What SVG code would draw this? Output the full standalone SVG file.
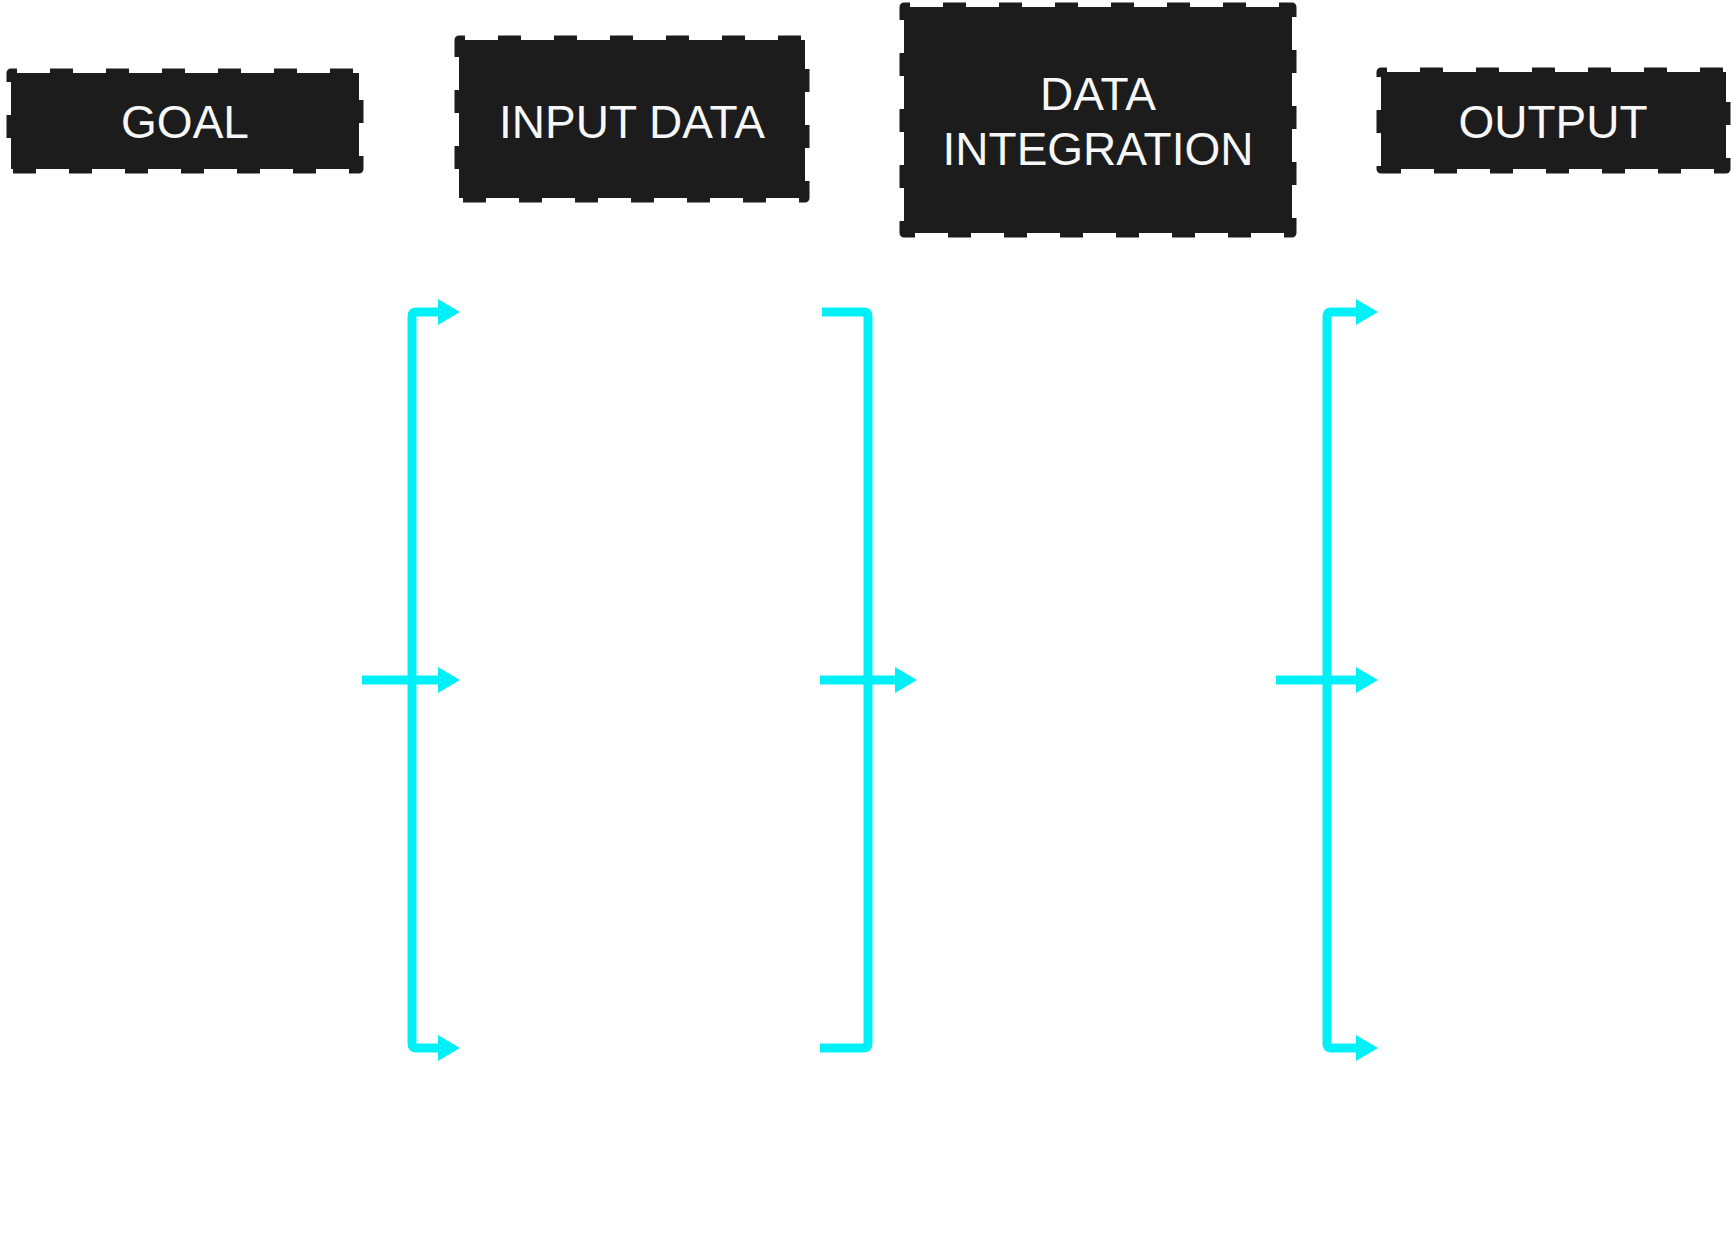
<svg xmlns="http://www.w3.org/2000/svg" width="1732" height="1242" viewBox="0 0 1732 1242">
<style>
.box{fill:#1b1c1b;stroke:#1b1c1b;stroke-width:9;stroke-dasharray:23 33;stroke-dashoffset:17;stroke-linejoin:round}
.lbl{fill:#f7f7f7;font-family:"Liberation Sans",Arial,sans-serif;font-size:46px;text-anchor:middle}
.con{fill:none;stroke:#00f0f8;stroke-width:9;stroke-linejoin:round}
</style>
<defs>
<marker id="ah" viewBox="0 0 22 26" refX="0" refY="13" markerWidth="22" markerHeight="26" markerUnits="userSpaceOnUse" orient="auto">
<path d="M0,0 L22,13 L0,26 z" fill="#00f0f8"/>
</marker>
</defs>
<rect width="1732" height="1242" fill="#ffffff"/>
<g id="goal">
<rect class="box" x="11" y="73" width="348" height="96"/>
<text class="lbl" x="185" y="138">GOAL</text>
</g>
<g id="input-data">
<rect class="box" x="459" y="40" width="346" height="158"/>
<text class="lbl" x="632" y="138">INPUT DATA</text>
</g>
<g id="data-integration">
<rect class="box" x="904" y="7" width="388" height="226"/>
<text class="lbl" x="1098" y="110">DATA</text>
<text class="lbl" x="1098" y="165">INTEGRATION</text>
</g>
<g id="output">
<rect class="box" x="1381" y="72" width="345" height="97"/>
<text class="lbl" x="1553" y="138">OUTPUT</text>
</g>
<g id="connectors">
<path class="con" d="M412,680 V316 Q412,312 416,312 H438" marker-end="url(#ah)"/>
<path class="con" d="M412,680 V1044 Q412,1048 416,1048 H438" marker-end="url(#ah)"/>
<path class="con" d="M362,680 H438" marker-end="url(#ah)"/>
<path class="con" d="M822,312 H864 Q868,312 868,316 V1044 Q868,1048 864,1048 H820"/>
<path class="con" d="M820,680 H895" marker-end="url(#ah)"/>
<path class="con" d="M1327,680 V316 Q1327,312 1331,312 H1356" marker-end="url(#ah)"/>
<path class="con" d="M1327,680 V1044 Q1327,1048 1331,1048 H1356" marker-end="url(#ah)"/>
<path class="con" d="M1276,680 H1356" marker-end="url(#ah)"/>
</g>
</svg>
